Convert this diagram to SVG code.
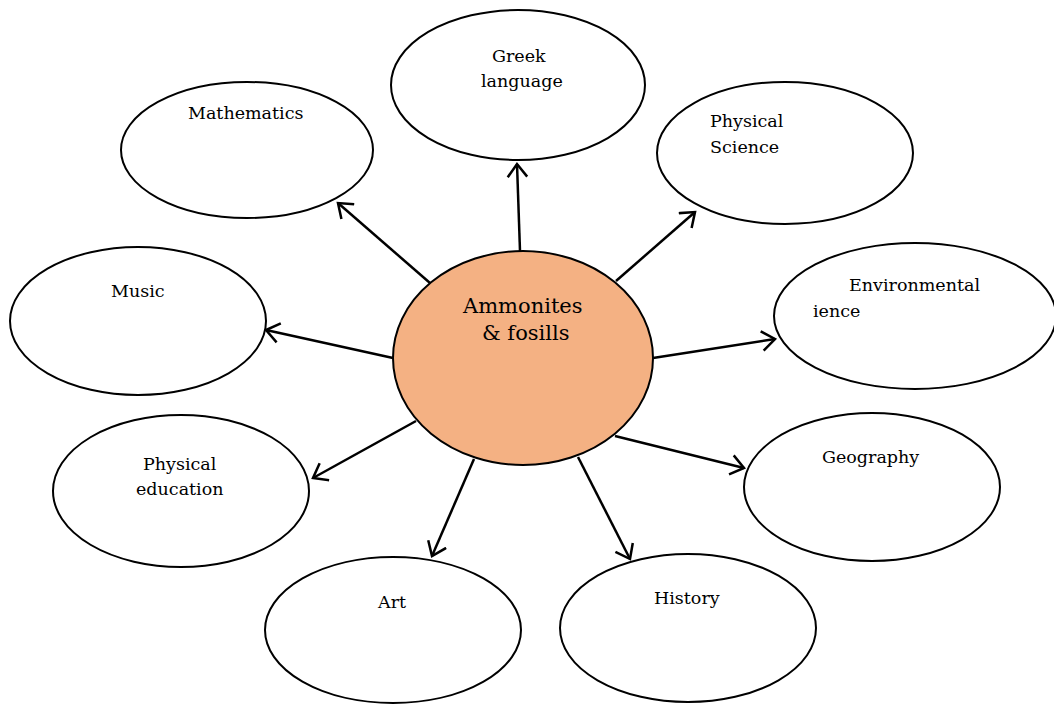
<svg xmlns="http://www.w3.org/2000/svg" width="1054" height="704" viewBox="0 0 1054 704">
<defs>
<style>
.n{fill:#fff;stroke:#000;stroke-width:2}
.c{fill:#f4b183;stroke:#000;stroke-width:2}
.t{font-family:"DejaVu Serif","Liberation Serif",serif;font-size:17.5px;fill:#000}
.tc{font-family:"DejaVu Serif","Liberation Serif",serif;font-size:21px;fill:#000}
.e{stroke:#000;stroke-width:2.5;fill:none}
</style>
<marker id="ah" markerUnits="userSpaceOnUse" markerWidth="28" markerHeight="28" viewBox="-14 -14 28 28" refX="0" refY="0" orient="auto">
<path d="M-12,-9 L0,0 L-12,9" fill="none" stroke="#000" stroke-width="2.5" stroke-linecap="square"/>
</marker>
</defs>
<rect width="1054" height="704" fill="#fff"/>
<g id="connectors">
<line class="e" x1="430" y1="283" x2="338" y2="203" marker-end="url(#ah)"/>
<line class="e" x1="520" y1="251" x2="517" y2="164" marker-end="url(#ah)"/>
<line class="e" x1="616" y1="281" x2="695" y2="212" marker-end="url(#ah)"/>
<line class="e" x1="653" y1="358" x2="775" y2="339" marker-end="url(#ah)"/>
<line class="e" x1="393" y1="358" x2="266" y2="330" marker-end="url(#ah)"/>
<line class="e" x1="416" y1="421" x2="313" y2="478" marker-end="url(#ah)"/>
<line class="e" x1="474" y1="459" x2="432" y2="556" marker-end="url(#ah)"/>
<line class="e" x1="578" y1="457" x2="630" y2="559" marker-end="url(#ah)"/>
<line class="e" x1="615" y1="436" x2="744" y2="468" marker-end="url(#ah)"/>
</g>
<g id="mathematics"><ellipse class="n" cx="247" cy="150" rx="126" ry="68"/><text class="t" x="188" y="119">Mathematics</text></g>
<g id="greek"><ellipse class="n" cx="518" cy="85" rx="127" ry="75"/><text class="t" x="492" y="62">Greek</text><text class="t" x="481" y="87">language</text></g>
<g id="physical-science"><ellipse class="n" cx="785" cy="153" rx="128" ry="71"/><text class="t" x="710" y="127">Physical</text><text class="t" x="710" y="153">Science</text></g>
<g id="environmental"><ellipse class="n" cx="915" cy="316" rx="141" ry="73"/><text class="t" x="849" y="291">Environmental</text><text class="t" x="813" y="317">ience</text></g>
<g id="music"><ellipse class="n" cx="138" cy="321" rx="128" ry="74"/><text class="t" x="111" y="297">Music</text></g>
<g id="geography"><ellipse class="n" cx="872" cy="487" rx="128" ry="74"/><text class="t" x="822" y="463">Geography</text></g>
<g id="physical-education"><ellipse class="n" cx="181" cy="491" rx="128" ry="76"/><text class="t" x="143" y="470">Physical</text><text class="t" x="136" y="495">education</text></g>
<g id="art"><ellipse class="n" cx="393" cy="630" rx="128" ry="73"/><text class="t" x="378" y="608">Art</text></g>
<g id="history"><ellipse class="n" cx="688" cy="628" rx="128" ry="74"/><text class="t" x="654" y="604">History</text></g>
<g id="center"><ellipse class="c" cx="523" cy="358" rx="130" ry="107"/><text class="tc" x="463" y="313">Ammonites</text><text class="tc" x="482" y="340">&amp; fosills</text></g>
</svg>
